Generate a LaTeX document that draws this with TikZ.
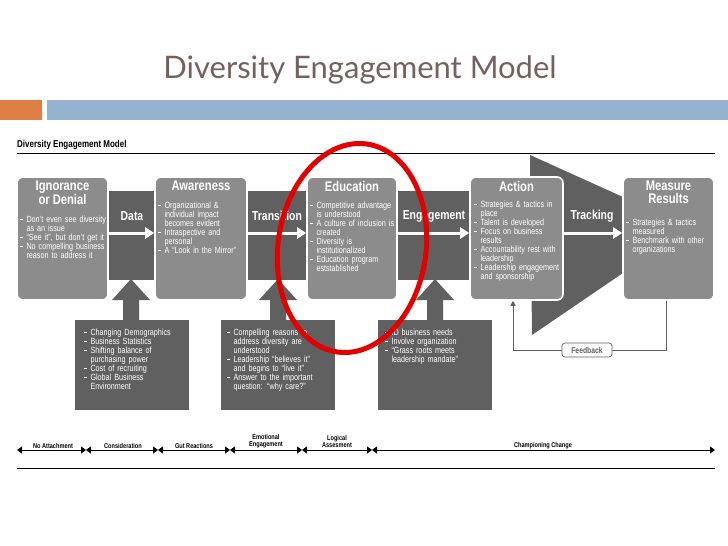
\documentclass[tikz,border=0pt]{standalone}
\usepackage{fontspec}
\setmainfont{Liberation Sans}
\newfontfamily\cond{Liberation Sans}[FakeStretch=0.8,BoldFont={Liberation Sans Bold},BoldFeatures={FakeStretch=0.8}]
\newfontfamily\ttl{Lato}
\usetikzlibrary{arrows.meta}
\definecolor{band}{HTML}{606060}
\definecolor{boxg}{HTML}{8C8C8C}
\definecolor{ttlc}{HTML}{74625A}
\definecolor{orng}{HTML}{E07F45}
\definecolor{blu}{HTML}{93B3D1}
\newcommand\bi{\par\leftskip=0.7em\noindent\llap{\makebox[0.7em][l]{\rule[0.25em]{0.32em}{0.14em}}}}
\tikzset{
  stage/.style={draw=white,line width=1.6pt,fill=boxg,rounded corners=6pt,minimum width=#1,minimum height=123pt,inner sep=0},
  head/.style={anchor=north,text=white,font=\cond\bfseries\fontsize{14}{13}\selectfont,align=center,inner sep=0},
  body/.style={anchor=north west,text=white,font=\cond\fontsize{9}{9}\selectfont,inner sep=0,text width=#1},
  lab/.style={text=white,font=\cond\bfseries\fontsize{13}{13}\selectfont,inner sep=0},
  warrow/.style={white,line width=3pt,-{Triangle[length=9pt,width=11pt]}},
  lower/.style={fill=band,minimum width=114pt,minimum height=90pt,inner sep=0},
  tl/.style={font=\cond\bfseries\fontsize{7}{7}\selectfont,align=center,inner sep=0},
  tick/.style={line width=0.9pt,{Triangle[length=5pt,width=7pt]}-{Triangle[length=5pt,width=7pt]}}
}
\begin{document}
\begin{tikzpicture}[x=1pt,y=-1pt]
\useasboundingbox (0,0) rectangle (728,546);
% title
\node[text=ttlc,font=\ttl\fontsize{31}{31}\selectfont] (title) at (360,70) {Diversity Engagement Model};
\fill[orng] (0,100) rectangle (42,120);
\fill[blu] (47,100) rectangle (728,120);
\node[anchor=west,font=\cond\bfseries\fontsize{10}{10}\selectfont,inner sep=0] (sub) at (17,145) {Diversity Engagement Model};
\draw[line width=0.8pt] (17,153) -- (715,153);
% band and wedge
\fill[band] (40,191) rectangle (532,280);
\fill[band] (530,155) -- (623,197) -- (623,273) -- (532,335) -- cycle;
% vertical arrows
\foreach \cx in {131,278,435}{
  \fill[band] (\cx-8,322) -- (\cx-8,300) -- (\cx-19,300) -- (\cx,279) -- (\cx+19,300) -- (\cx+8,300) -- (\cx+8,322) -- cycle;
}
% stages
\node[stage=91pt] (ign) at (62.5,238.5) {};
\node[stage=92pt] (aw) at (201,238.5) {};
\node[stage=90pt] (edu) at (352,238.5) {};
\node[stage=93pt] (act) at (516.5,238.5) {};
\node[stage=91pt] (mr) at (668.5,238.5) {};
% white arrows
\draw[warrow] (ign.east |- 0,233) -- (aw.west |- 0,233);
\draw[warrow] (aw.east |- 0,233) -- (edu.west |- 0,233);
\draw[warrow] (edu.east |- 0,233) -- (act.west |- 0,233);
\draw[warrow] (act.east |- 0,233) -- (mr.west |- 0,233);
\node[lab] (l1) at (132,216) {Data};
\node[lab] (l2) at (277,216) {Transition};
\node[lab] (l3) at (434,216) {Engagement};
\node[lab] (l4) at (592,216) {Tracking};
% headings
\node[head] (h1) at (62.5,181) {Ignorance\\or Denial};
\node[head] (h2) at (201,181) {Awareness};
\node[head] (h3) at (352,181) {Education};
\node[head] (h4) at (516.5,181) {Action};
\node[head] (h5) at (668.5,181) {Measure\\Results};
% bodies
\node[body=86pt] (b1) at (20,213) {\raggedright\bi Don’t even see diversity as an issue\bi “See it”, but don’t get it\bi No compelling business reason to address it\par};
\node[body=86pt] (b2) at (158,199) {\raggedright\bi Organizational \& individual impact becomes evident\bi Intraspective and personal\bi A “Look in the Mirror”\par};
\node[body=84pt] (b3) at (310,199) {\raggedright\bi Competitive advantage is understood\bi A culture of inclusion is created\bi Diversity is institutionalized\bi Education program eststablished\par};
\node[body=88pt] (b4) at (474,198) {\raggedright\bi Strategies \& tactics in place\bi Talent is developed\bi Focus on business results\bi Accountability rest with leadership\bi Leadership engagement and sponsorship\par};
\node[body=86pt] (b5) at (626,216) {\raggedright\bi Strategies \& tactics measured\bi Benchmark with other organizations\par};
% lower boxes
\node[lower] (d1) at (131.5,365) {};
\node[lower] (d2) at (277.5,365) {};
\node[lower] (d3) at (434.5,365) {};
\node[body=94pt] (e1) at (84,326) {\raggedright\bi Changing Demographics\bi Business Statistics\bi Shifting balance of purchasing power\bi Cost of recruiting\bi Global Business Environment\par};
\node[body=94pt] (e2) at (227,326) {\raggedright\bi Compelling reasons to address diversity are understood\bi Leadership “believes it” and begins to “live it”\bi Answer to the important question: “why care?”\par};
\node[body=94pt] (e3) at (385,326) {\raggedright\bi ID business needs\bi Involve organization\bi “Grass roots meets leadership mandate”\par};
% feedback
\coordinate (fr) at (666,350);
\coordinate (fl) at (513,350);
\draw[line width=0.7pt,draw=band,-{Triangle[length=5pt,width=5pt]}] (mr.south -| fr) -- (fr) -- (fl) -- (act.south -| fl);
\node[draw=band,fill=white,rounded corners=3pt,line width=0.7pt,text=band,font=\cond\bfseries\fontsize{8.5}{8.5}\selectfont,minimum width=50pt,minimum height=14pt] (fb) at (587,350) {Feedback};
% red ellipse
\draw[red!90!black,line width=5pt,rotate around={-8:(352,248)}] (352,248) ellipse [x radius=74pt,y radius=105pt];
% timeline
\coordinate (t0) at (17,450);
\coordinate (t1) at (86,450);
\coordinate (t2) at (158,450);
\coordinate (t3) at (230,450);
\coordinate (t4) at (302,450);
\coordinate (t5) at (372,450);
\coordinate (t6) at (715,450);
\draw[tick] (t0) -- (t1);
\draw[tick] (t1) -- (t2);
\draw[tick] (t2) -- (t3);
\draw[tick] (t3) -- (t4);
\draw[tick] (t4) -- (t5);
\draw[tick] (t5) -- (t6);
\node[tl] (n1) at (53,446) {No Attachment};
\node[tl] (n2) at (123,446) {Consideration};
\node[tl] (n3) at (194,446) {Gut Reactions};
\node[tl] (n4) at (266,441) {Emotional\\Engagement};
\node[tl] (n5) at (337,441) {Logical\\Assesment};
\node[tl] (n6) at (543,446) {Championing Change};
\draw[line width=0.9pt] (17,468) -- (715,468);
\end{tikzpicture}
\end{document}
